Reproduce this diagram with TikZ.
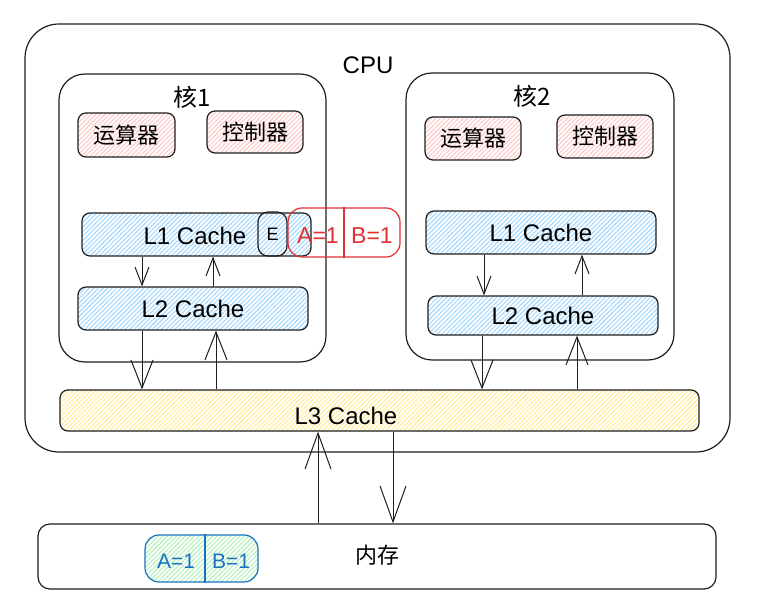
\documentclass[tikz,border=0pt]{standalone}
\usepackage{fontspec}
\setmainfont{Liberation Sans}
\newfontfamily\cjk{Noto Sans CJK SC}
\usepackage{tikz}
\usetikzlibrary{fit,arrows.meta,patterns.meta}
\definecolor{ink}{HTML}{1E1E1E}
\definecolor{hatchred}{HTML}{FFC9C9}
\definecolor{hatchblue}{HTML}{A5D8FF}
\definecolor{hatchyellow}{HTML}{FFEC99}
\definecolor{hatchgreen}{HTML}{B2F2BB}
\definecolor{valred}{HTML}{E03131}
\definecolor{valblue}{HTML}{1971C2}
\tikzset{box/.style={draw=ink,line width=.6pt,inner sep=0pt,rounded corners=4pt},
         hatch/.style={pattern={Lines[angle=45,distance=1.6pt,line width=.55pt]},pattern color=#1},
         core/.style={box,rounded corners=13pt},
         unit/.style={box,hatch=hatchred},
         cache/.style={box,hatch=hatchblue},
         val/.style={box,draw=#1},
         lbl/.style={inner sep=0pt,font=\fontsize{12}{14}\selectfont},
         cjklbl/.style={inner sep=0pt,font=\cjk\fontsize{11}{13}\selectfont},
         vallbl/.style={inner sep=0pt,text=#1,font=\fontsize{11.5}{13}\selectfont},
         arr/.style={draw=ink,line width=.5pt,-{Straight Barb[length=9pt,width=7pt]}},
         bigarr/.style={arr,-{Straight Barb[length=14pt,width=11pt]}},
         memarr/.style={arr,-{Straight Barb[length=18pt,width=13pt]}}}

\begin{document}
\begin{tikzpicture}[x=.5pt,y=-.5pt]
  \useasboundingbox (0,0) rectangle (758,613);
  \node[core,rounded corners=17pt,fit={(25,24) (730,452)}] (cpu) {};
  \node[lbl] (cpulbl) at (368,65) {CPU};
  % cores
  \node[core,fit={(59,74) (326,362)}] (core1) {};
  \node[core,fit={(406,73) (674,360)}] (core2) {};
  \node[cjklbl,font=\cjk\fontsize{12}{14}\selectfont] (core1lbl) at (192,97) {核1};
  \node[cjklbl,font=\cjk\fontsize{12}{14}\selectfont] (core2lbl) at (532,96) {核2};
  \node[unit,fit={(78,113) (175,157)}] (alu1) {};
  \node[unit,fit={(207,111) (303,153)}] (ctl1) {};
  \node[unit,fit={(425,117) (521,160)}] (alu2) {};
  \node[unit,fit={(557,115) (653,158)}] (ctl2) {};
  \node[cjklbl] at (alu1) {运算器};
  \node[cjklbl] at (ctl1) {控制器};
  \node[cjklbl] at (alu2) {运算器};
  \node[cjklbl] at (ctl2) {控制器};
  \node[cache,fit={(82,213) (311,256)}] (l1a) {};
  \node[cache,fit={(78,287) (308,330)}] (l2a) {};
  \node[cache,fit={(426,211) (656,254)}] (l1b) {};
  \node[cache,fit={(428,296) (658,335)}] (l2b) {};
  \node[lbl] at (195,236) {L1 Cache};
  \node[lbl] at (l2a) {L2 Cache};
  \node[lbl] at (l1b) {L1 Cache};
  \node[lbl] at (l2b) {L2 Cache};
  % cache line of core 1
  \node[box,rounded corners=5pt,fit={(258,212) (287,256)}] (flag) {};
  \node[lbl,font=\fontsize{9}{10}\selectfont] at (flag) {E};
  \node[val=valred,rounded corners=7pt,fit={(288,208) (400,257)}] (l1val) {};
  \draw[valred,line width=.6pt] (l1val.north -| 344,0) -- (l1val.south -| 344,0);
  \node[vallbl=valred] (vala) at (318,236) {A=1};
  \node[vallbl=valred] (valb) at (372,236) {B=1};
  % shared
  \node[box,hatch=hatchyellow,fit={(60,390) (699,431)}] (l3) {};
  \node[lbl] (l3lbl) at (346,416) {L3 Cache};
  \node[box,rounded corners=6pt,fit={(38,524) (716,589)}] (mem) {};
  \node[cjklbl] (memlbl) at (377,555) {内存};
  \node[val=valblue,hatch=hatchgreen,rounded corners=7pt,fit={(145,535) (258,582)}] (memval) {};
  \draw[valblue,line width=.6pt] (memval.north -| 205,0) -- (memval.south -| 205,0);
  \node[vallbl=valblue,font=\fontsize{10.5}{12}\selectfont] (mema) at (176,561) {A=1};
  \node[vallbl=valblue,font=\fontsize{10.5}{12}\selectfont] (memb) at (231,561) {B=1};
  % arrows
  \draw[arr] (l1a.south -| 142,0) -- (l2a.north -| 142,0);
  \draw[arr] (l2a.north -| 213,0) -- (l1a.south -| 213,0);
  \draw[bigarr] (l2a.south -| 142,0) -- (l3.north -| 142,0);
  \draw[bigarr] (l3.north -| 216,0) -- (l2a.south -| 216,0);
  \draw[arr] (l1b.south -| 484,0) -- (l2b.north -| 484,0);
  \draw[arr] (l2b.north -| 582,0) -- (l1b.south -| 582,0);
  \draw[bigarr] (l2b.south -| 482,0) -- (l3.north -| 482,0);
  \draw[bigarr] (l3.north -| 577,0) -- (l2b.south -| 577,0);
  \draw[memarr] (mem.north -| 318,0) -- (l3.south -| 318,0);
  \draw[memarr] (l3.south -| 393,0) -- (mem.north -| 393,0);
\end{tikzpicture}
\end{document}
